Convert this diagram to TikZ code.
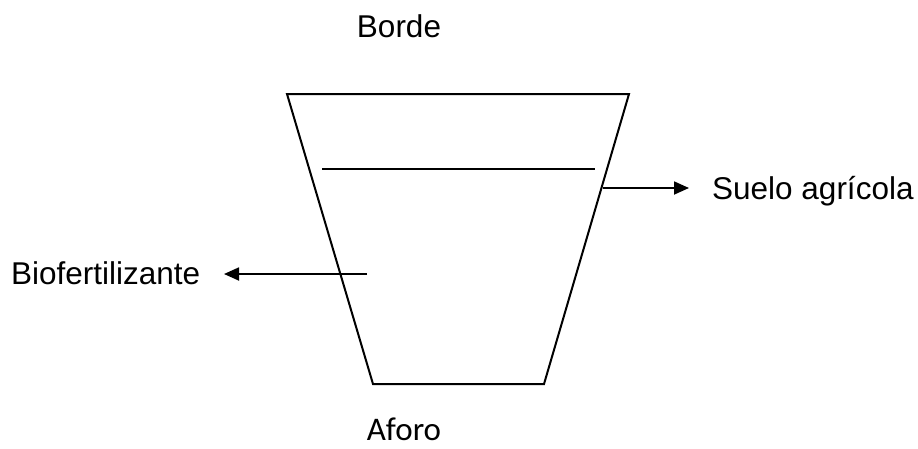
\documentclass[tikz,border=0pt]{standalone}
\usepackage{fontspec}
\setmainfont{Liberation Sans}
\newfontfamily\calib{Carlito}
\usetikzlibrary{arrows.meta}
\begin{document}
\begin{tikzpicture}[x=1pt,y=-1pt,
  shape line/.style={line width=2pt, line join=miter},
  pointer/.style={line width=1.8pt, -{Triangle[length=15pt,width=13pt]}},
  lbl/.style={inner sep=0pt, font=\fontsize{31.5}{36}\selectfont}]
\useasboundingbox (0,0) rectangle (918,448);
% vessel
\coordinate (tl) at (287,94);
\coordinate (tr) at (629,94);
\coordinate (br) at (544,384);
\coordinate (bl) at (373,384);
\draw[shape line] (tl) -- (tr) -- (br) -- (bl) -- cycle;
\coordinate (lvlL) at (322,169);
\coordinate (lvlR) at (595,169);
\draw[shape line] (lvlL) -- (lvlR);
% labels
\node[lbl, anchor=base] (borde) at (399,37) {Borde};
\node[lbl, anchor=base west] (suelo) at (712,199) {Suelo agrícola};
\node[lbl, anchor=base west] (bio) at (11,284) {Biofertilizante};
\node[lbl, anchor=base, font=\calib\fontsize{33}{38}\selectfont] (aforo) at (404,440) {Aforo};
% arrows
\coordinate (sStart) at (603,188);
\coordinate (sEnd) at (689,188);
\draw[pointer] (sStart) -- (sEnd);
\coordinate (bStart) at (367,274);
\coordinate (bEnd) at (224,274);
\draw[pointer] (bStart) -- (bEnd);
\end{tikzpicture}
\end{document}
